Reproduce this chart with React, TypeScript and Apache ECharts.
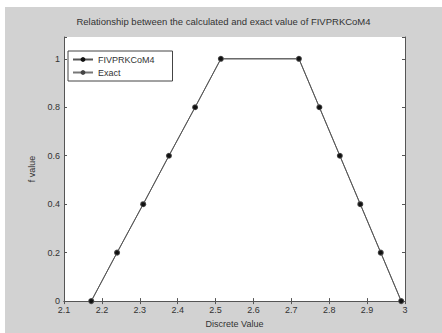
import React, { useEffect, useRef } from "react";
import * as echarts from "echarts";

const TITLE = "Relationship between the calculated and exact value of FIVPRKCoM4";
const SERIES_NAMES = ["FIVPRKCoM4", "Exact"];
const X_VALUES = [2.172, 2.24, 2.309, 2.377, 2.446, 2.514, 2.72, 2.774, 2.828, 2.882, 2.936, 2.99];
const CALC_VALUES = [0, 0.2, 0.4, 0.6, 0.8, 1, 1, 0.8, 0.6, 0.4, 0.2, 0];
const EXACT_VALUES = [0, 0.2, 0.4, 0.6, 0.8, 1, 1, 0.8, 0.6, 0.4, 0.2, 0];

export default function App() {
  const ref = useRef<HTMLDivElement>(null);
  useEffect(() => {
    if (!ref.current) return;
    const chart = echarts.init(ref.current, null, { renderer: "svg" });
    const font = "Liberation Sans";
    const axisLineStyle = { color: "#555", width: 1 };
    const calc = X_VALUES.map((x, i) => [x, CALC_VALUES[i]]);
    const exact = X_VALUES.map((x, i) => [x, EXACT_VALUES[i]]);
    chart.setOption({
      animation: false,
      backgroundColor: "#d2d2d2",
      textStyle: { fontFamily: font },
      title: {
        text: TITLE,
        left: "center",
        top: 4,
        textStyle: { fontSize: 9.5, fontWeight: "normal", color: "#333", fontFamily: font },
      },
      grid: { left: 59, top: 30, width: 341, height: 267, show: true, backgroundColor: "#fff", borderWidth: 0 },
      legend: {
        orient: "vertical",
        left: 63,
        top: 44,
        itemWidth: 20,
        itemHeight: 6,
        itemGap: 4,
        padding: [4, 18, 4, 4],
        borderColor: "#444",
        borderWidth: 1,
        backgroundColor: "#fff",
        textStyle: { fontSize: 9, color: "#333", fontFamily: font },
        data: SERIES_NAMES,
      },
      xAxis: [
        {
          type: "value",
          min: 2.1,
          max: 3,
          interval: 0.1,
          name: "Discrete Value",
          nameLocation: "middle",
          nameGap: 17,
          nameTextStyle: { fontSize: 9, color: "#333" },
          axisLine: { lineStyle: axisLineStyle },
          axisTick: { inside: true, length: 3, lineStyle: axisLineStyle },
          axisLabel: {
            fontSize: 9,
            color: "#333",
            margin: 4,
            formatter: (v: number) => String(Number(v.toFixed(1))),
          },
          splitLine: { show: false },
        },
        {
          type: "value",
          position: "top",
          min: 2.1,
          max: 3,
          interval: 0.1,
          axisLine: { lineStyle: axisLineStyle },
          axisTick: { inside: true, length: 3, lineStyle: axisLineStyle },
          axisLabel: { show: false },
          splitLine: { show: false },
        },
      ],
      yAxis: [
        {
          type: "value",
          min: 0,
          max: 1.09,
          interval: 0.2,
          name: "f value",
          nameLocation: "middle",
          nameGap: 24,
          nameTextStyle: { fontSize: 9, color: "#333" },
          axisLine: { show: true, lineStyle: axisLineStyle },
          axisTick: { show: true, inside: true, length: 3, lineStyle: axisLineStyle },
          axisLabel: {
            fontSize: 9,
            color: "#333",
            margin: 4,
            formatter: (v: number) => (v > 1.0001 ? "" : String(Number(v.toFixed(1)))),
          },
          splitLine: { show: false },
        },
        {
          type: "value",
          position: "right",
          min: 0,
          max: 1.09,
          interval: 0.2,
          axisLine: { show: true, lineStyle: axisLineStyle },
          axisTick: { show: true, inside: true, length: 3, lineStyle: axisLineStyle },
          axisLabel: { show: false },
          splitLine: { show: false },
        },
      ],
      series: [
        {
          name: SERIES_NAMES[1],
          type: "line",
          data: exact,
          symbol: "circle",
          symbolSize: 6,
          z: 2,
          itemStyle: { color: "#444" },
          lineStyle: { color: "#777", width: 1 },
        },
        {
          name: SERIES_NAMES[0],
          type: "line",
          data: calc,
          symbol: "circle",
          symbolSize: 4,
          z: 3,
          itemStyle: { color: "#111" },
          lineStyle: { color: "#555", width: 1 },
        },
      ],
    });
    return () => chart.dispose();
  }, []);
  return (
    <div
      ref={ref}
      style={{ position: "fixed", left: 5, top: 7, width: 437, height: 326 }}
    />
  );
}
